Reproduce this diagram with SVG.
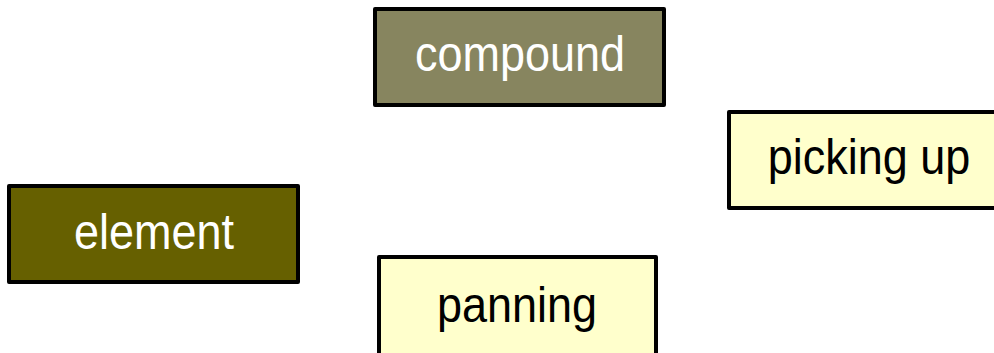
<svg xmlns="http://www.w3.org/2000/svg" width="994" height="353" viewBox="0 0 994 353">
  <style>
    .box { stroke: #000; stroke-width: 4; stroke-linejoin: round; }
    .lbl { font-family: "Liberation Sans", Arial, sans-serif; font-size: 50px; text-anchor: middle; }
    .light { fill: #ffffff; }
    .dark { fill: #000000; }
  </style>
  <rect width="994" height="353" fill="#ffffff"/>
  <g id="compound">
    <rect class="box" x="375" y="9" width="289" height="96" fill="#87855f"/>
    <text class="lbl light" transform="translate(520 71) scale(0.9 1)">compound</text>
  </g>
  <g id="picking-up">
    <rect class="box" x="729" y="112" width="280" height="96" fill="#ffffcc"/>
    <text class="lbl dark" transform="translate(869 174) scale(0.9 1)">picking up</text>
  </g>
  <g id="element">
    <rect class="box" x="9" y="186" width="289" height="96" fill="#666000"/>
    <text class="lbl light" transform="translate(154 249) scale(0.9 1)">element</text>
  </g>
  <g id="panning">
    <rect class="box" x="379" y="257" width="277" height="110" fill="#ffffcc"/>
    <text class="lbl dark" transform="translate(517 322) scale(0.9 1)">panning</text>
  </g>
  <g id="connectors"></g>
</svg>
